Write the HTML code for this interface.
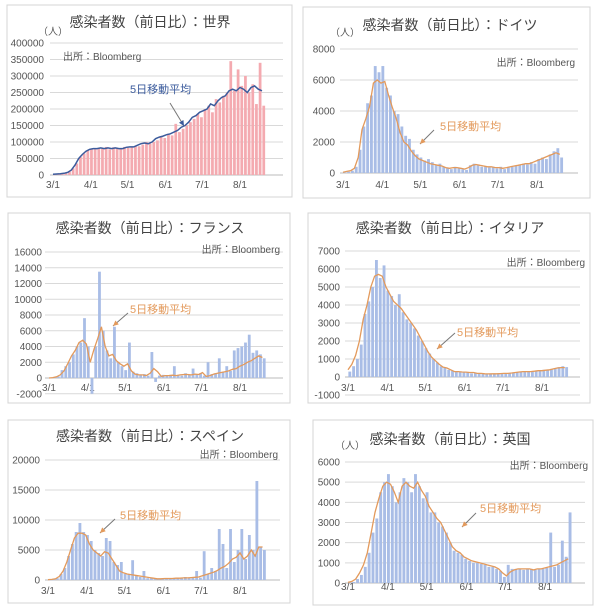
<!DOCTYPE html>
<html><head><meta charset="utf-8"><style>
body{margin:0;background:#fff;width:600px;height:611px;overflow:hidden}
svg{display:block;font-family:"Liberation Sans","Noto Sans CJK JP",sans-serif}
</style></head><body>
<svg id="s" width="600" height="611" viewBox="0 0 600 611"></svg>
<script>
const days=[];for(let i=0;i<58;i++)days.push(i*3);
const dateLabels=["3/1","4/1","5/1","6/1","7/1","8/1"];
const dateDays=[0,31,61,92,122,153];
const worldBars=[1,2,4,6,10,20,35,55,65,75,80,78,82,80,85,78,84,82,80,85,82,85,88,87,92,100,95,100,105,115,112,125,120,155,130,140,150,160,170,185,175,200,210,190,230,220,240,250,345,255,320,270,300,250,275,215,340,210].map(v=>v*1000);
const worldMA=[2,3,4,5,8,15,30,50,62,72,78,80,80,82,80,82,80,82,80,80,84,85,85,90,95,97,95,100,110,115,118,122,125,130,135,145,150,160,175,180,190,195,200,215,210,225,235,240,255,260,255,265,260,250,265,270,260,255].map(v=>v*1000);
const deBars=[30,80,150,400,1500,3000,4500,5000,6900,6500,6900,5500,5000,4000,3800,3000,2400,2200,1500,1200,1000,800,900,700,500,600,400,300,250,400,300,250,200,500,600,500,400,450,350,400,300,400,250,350,400,450,500,600,550,700,600,900,1000,900,1200,1400,1600,1000];
const deMA=[50,100,150,300,1000,2800,3500,4300,5800,6000,5800,5900,5000,4200,3500,2600,2000,1800,1400,1100,900,800,700,600,550,500,450,350,300,350,350,300,250,350,500,550,500,450,400,400,350,350,300,350,400,450,500,550,600,600,700,800,900,1000,1100,1200,1300,1200];
const frBars=[0,50,200,1000,1500,2000,3000,4000,4500,7600,4000,-2000,4000,13500,6000,3500,2500,6500,2000,1500,1000,4500,800,600,400,500,300,3300,-500,300,400,300,400,1500,400,300,600,400,1200,500,600,300,2000,500,600,2500,800,1500,900,3500,3800,4000,4500,5500,3200,3500,3000,2500];
const frMA=[0,50,150,400,900,1800,2800,3500,4500,4800,4300,2000,3600,5000,6500,4000,2800,3000,2200,1800,1500,1800,900,500,400,400,300,600,1200,800,200,300,300,350,300,400,450,450,400,500,450,700,200,300,500,600,700,800,900,1100,1200,1500,1700,2000,2200,2500,2800,2600];
const itBars=[300,600,1000,1800,3500,4200,5000,6500,5500,6200,4800,4500,4000,4600,3600,3200,3000,2700,2300,2000,1600,1300,1000,800,600,500,400,350,300,300,250,280,200,250,200,180,150,170,180,200,200,220,200,250,250,300,300,300,280,350,380,400,400,450,500,550,600,550];
const itMA=[400,700,1200,2000,3200,4000,5000,5600,5700,5600,5000,4600,4200,4000,3800,3500,3200,2900,2600,2200,1800,1400,1100,900,700,550,500,400,300,300,280,270,250,250,200,200,180,170,180,180,190,200,200,220,250,280,300,300,300,320,350,350,380,400,450,500,520,520];
const esBars=[0,50,300,1000,2000,4000,6000,8000,9500,8000,7500,6500,5000,4500,4000,7000,6500,3000,2500,3000,1000,1000,3300,800,500,1500,300,300,200,200,300,300,200,300,400,300,500,400,500,1500,400,4800,1000,2000,1500,8500,6000,2000,8500,3000,5000,8500,3500,7500,5000,16500,5500,5000];
const esMA=[50,100,200,600,1500,3000,5000,7000,7800,7800,7500,6000,5000,4500,4000,4700,4500,3500,2500,1500,1200,1000,900,800,700,600,500,400,300,200,200,250,250,250,300,300,350,350,400,450,500,700,900,1100,1300,1600,2000,2300,2800,3500,3800,4500,3500,4000,5000,4000,5500,5500];
const ukBars=[20,50,200,400,800,1500,2500,3200,4500,5000,5400,4800,4000,4500,5200,5000,4500,5400,4800,4200,4500,3500,3500,3000,2800,2500,2000,1600,1500,1400,1200,1100,1000,1000,950,900,800,800,700,600,300,900,700,700,700,650,700,700,650,700,700,750,2500,800,900,2100,1300,3500];
const ukMA=[30,80,200,500,900,1500,2500,3500,4200,4800,5000,4900,4500,4000,4800,5000,4800,4700,5000,4600,4300,3800,3500,3200,3000,2600,2200,1800,1600,1500,1300,1200,1100,1050,1000,950,900,850,800,700,500,350,550,650,700,700,700,700,650,700,700,750,800,850,900,1000,1100,1200];
const worldTicks=[0,50000,100000,150000,200000,250000,300000,350000,400000];
const deTicks=[0,2000,4000,6000,8000];
const frTicks=[-2000,0,2000,4000,6000,8000,10000,12000,14000,16000];
const itTicks=[-1000,0,1000,2000,3000,4000,5000,6000,7000];
const esTicks=[0,5000,10000,15000,20000];
const ukTicks=[0,1000,2000,3000,4000,5000,6000];

const NS="http://www.w3.org/2000/svg";
const S=document.getElementById('s');
function mk(tag,attrs,parent,txt){const e=document.createElementNS(NS,tag);for(const k in attrs)e.setAttribute(k,attrs[k]);if(txt!==undefined)e.textContent=txt;parent.appendChild(e);return e;}
const panels=[
 {id:'world',title:'感染者数（前日比）：世界',box:[7,5,285,192],x0:53,k:1.222,y0:175,yT:43,top:400000,ticks:worldTicks,gx:[50,283],tx:44,dy:188,bars:worldBars,ma:worldMA,bc:'#f4aab0',lc:'#3b5b9c',tc:150,ty:27,src:[63,60,'start'],unit:[38,35],lab:[130,93],arr:[170,103,184,126]},
 {id:'germany',title:'感染者数（前日比）：ドイツ',box:[303,7,287,191],x0:343,k:1.268,y0:173,yT:49,top:8000,ticks:deTicks,gx:[340,578],tx:335,dy:188,bars:deBars,ma:deMA,bc:'#a9bde6',lc:'#e39a5c',tc:450,ty:30,src:[575,66,'end'],unit:[330,36],lab:[440,130],arr:[434,130,420,144]},
 {id:'france',title:'感染者数（前日比）：フランス',box:[8,213,282,190],x0:49,k:1.248,y0:378,yT:252,top:16000,ticks:frTicks,gx:[45,283],tx:42,dy:391,bars:frBars,ma:frMA,bc:'#a9bde6',lc:'#e39a5c',tc:150,ty:233,src:[280,253,'end'],unit:null,lab:[130,313],arr:[128,313,113,326]},
 {id:'italy',title:'感染者数（前日比）：イタリア',box:[308,213,282,190],x0:348,k:1.268,y0:377,yT:251,top:7000,ticks:itTicks,gx:[345,580],tx:340,dy:391,bars:itBars,ma:itMA,bc:'#a9bde6',lc:'#e39a5c',tc:450,ty:233,src:[585,266,'end'],unit:null,lab:[457,336],arr:[455,333,437,349]},
 {id:'spain',title:'感染者数（前日比）：スペイン',box:[8,420,282,183],x0:48,k:1.255,y0:580,yT:460,top:20000,ticks:esTicks,gx:[45,280],tx:40,dy:594,bars:esBars,ma:esMA,bc:'#a9bde6',lc:'#e39a5c',tc:150,ty:441,src:[278,458,'end'],unit:null,lab:[120,519],arr:[115,519,100,533]},
 {id:'uk',title:'感染者数（前日比）：英国',box:[313,420,280,185],x0:348,k:1.288,y0:583,yT:462,top:6000,ticks:ukTicks,gx:[345,585],tx:340,dy:590,bars:ukBars,ma:ukMA,bc:'#a9bde6',lc:'#e39a5c',tc:450,ty:444,src:[588,469,'end'],unit:[335,449],lab:[480,512],arr:[476,513,462,527]}
];
panels.forEach(p=>{
 const g=mk('g',{},S);
 
 
 const X=d=>p.x0+d*p.k, Y=v=>p.y0-v*(p.y0-p.yT)/p.top;
 const b=mk('rect',{x:p.box[0],y:p.box[1],width:p.box[2],height:p.box[3],fill:'#fff',stroke:'#d4d4d4','stroke-width':1},g);
 
 const t=mk('text',{x:p.tc,y:p.ty,'text-anchor':'middle','font-size':14,fill:'#444'},g,p.title);
 
 p.ticks.forEach(v=>{
  const l=mk('line',{x1:p.gx[0],x2:p.gx[1],y1:Y(v),y2:Y(v),stroke:v===0?'#bbb':'#d9d9d9','stroke-width':1},g);
  
  const tl=mk('text',{x:p.tx,y:Y(v)+3.5,'text-anchor':'end','font-size':10,fill:'#555'},g,String(v));
  
 });
 dateDays.forEach((d,i)=>{
  const dl=mk('text',{x:X(d),y:p.dy,'text-anchor':'middle','font-size':10,fill:'#555'},g,dateLabels[i]);
  
 });
 const bw=3*p.k*0.75;
 days.forEach((d,i)=>{
  const v=p.bars[i];const y1=Y(Math.max(v,0)),y2=Y(Math.min(v,0));
  const r=mk('rect',{x:X(d)-bw/2+1.8,y:y1,width:bw,height:Math.max(y2-y1,0.5),fill:p.bc},g);
  
 });
 const pts=days.map((d,i)=>X(d).toFixed(1)+','+Y(p.ma[i]).toFixed(1)).join(' ');
 const pl=mk('polyline',{points:pts,fill:'none',stroke:p.lc,'stroke-width':p.id==='world'?1.5:1.3},g);
 
 const sr=mk('text',{x:p.src[0],y:p.src[1],'text-anchor':p.src[2],'font-size':10,fill:'#555'},g,'出所：Bloomberg');
 
 if(p.unit){const u=mk('text',{x:p.unit[0],y:p.unit[1],'font-size':10,fill:'#555'},g,'（人）');
  }
 const lb=mk('text',{x:p.lab[0],y:p.lab[1],'font-size':11,fill:p.lc},g,'5日移動平均');
 
 const a=p.arr;
 const al=mk('line',{x1:a[0],y1:a[1],x2:a[2],y2:a[3],stroke:'#777','stroke-width':1},g);
 
 const ang=Math.atan2(a[3]-a[1],a[2]-a[0]);
 const h=mk('polygon',{points:`${a[2]},${a[3]} ${a[2]-6*Math.cos(ang-0.45)},${a[3]-6*Math.sin(ang-0.45)} ${a[2]-6*Math.cos(ang+0.45)},${a[3]-6*Math.sin(ang+0.45)}`,fill:p.lc},g);
 
});
</script>
</body></html>
